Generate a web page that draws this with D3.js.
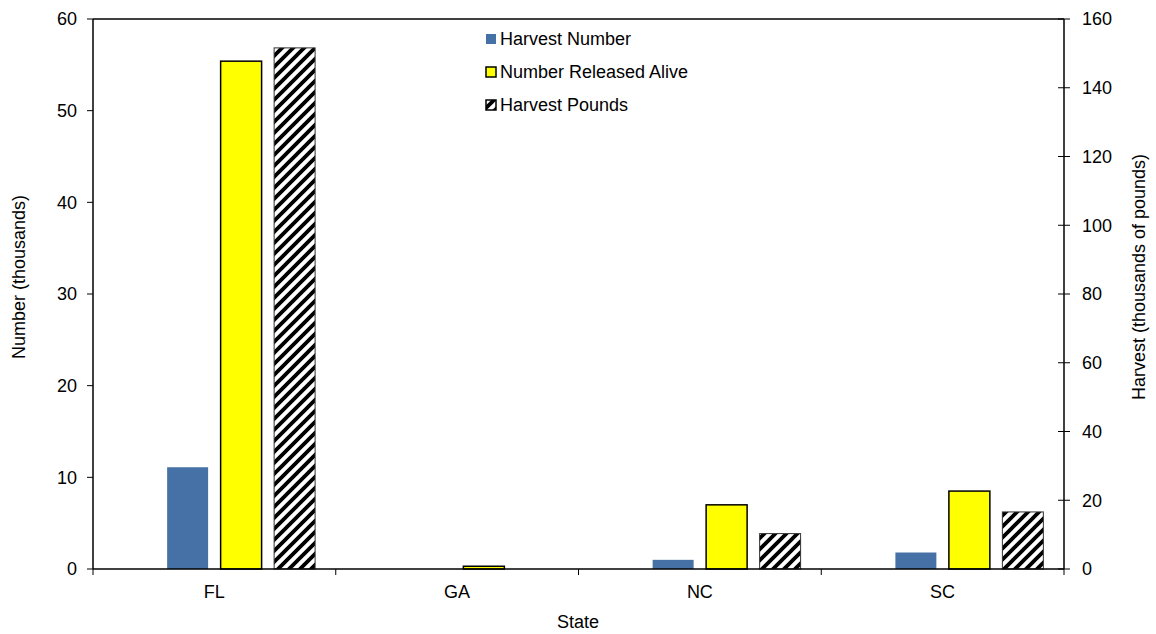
<!DOCTYPE html>
<html>
<head>
<meta charset="utf-8">
<script src="https://cdn.jsdelivr.net/npm/d3@7"></script>
<style>
  html, body { margin: 0; padding: 0; background: #fff; }
  svg { display: block; font-family: "Liberation Sans", Arial, sans-serif; }
</style>
</head>
<body>
<svg id="chart" width="1156" height="634"></svg>
<script>
const states = ["FL", "GA", "NC", "SC"];
const harvestNumber = [11.1, 0, 1.0, 1.8];      // thousands (left axis)
const releasedAlive = [55.4, 0.3, 7.0, 8.5];    // thousands (left axis)
const harvestPounds = [151.6, 0, 10.3, 16.6];   // thousands of pounds (right axis)
const leftTicks = [0, 10, 20, 30, 40, 50, 60];
const rightTicks = [0, 20, 40, 60, 80, 100, 120, 140, 160];
const seriesNames = ["Harvest Number", "Number Released Alive", "Harvest Pounds"];

const svg = d3.select("#chart");
const m = { left: 93, right: 1064, top: 19, bottom: 569 };

// pattern
const defs = svg.append("defs");
const P = 11;
const pat = defs.append("pattern").attr("id", "hatch")
  .attr("patternUnits", "userSpaceOnUse").attr("width", P).attr("height", P);
pat.append("rect").attr("width", P).attr("height", P).attr("fill", "#fff");
pat.append("path").attr("d", `M-3,3 l6,-6 M0,${P} l${P},-${P} M${P-3},${P+3} l6,-6`)
  .attr("stroke", "#000").attr("stroke-width", 3.8);

const x = d3.scaleBand().domain(states).range([m.left, m.right]).padding(0);
const inner = d3.scaleBand().domain(["_", "hn", "ra", "hp"])
  .range([0, x.bandwidth()]).paddingInner(0.234).paddingOuter(0.386);
const yL = d3.scaleLinear().domain([0, 60]).range([m.bottom, m.top]);
const yR = d3.scaleLinear().domain([0, 160]).range([m.bottom, m.top]);

const fs = 18;

// bars
const data = states.map((s, i) => ({ s, hn: harvestNumber[i], ra: releasedAlive[i], hp: harvestPounds[i] }));
const g = svg.append("g");
data.forEach(d => {
  const x0 = x(d.s);
  if (d.hn > 0) g.append("rect")
    .attr("x", x0 + inner("hn")).attr("width", inner.bandwidth())
    .attr("y", yL(d.hn)).attr("height", yL(0) - yL(d.hn))
    .attr("fill", "#4571a6");
  if (d.ra > 0) g.append("rect")
    .attr("x", x0 + inner("ra")).attr("width", inner.bandwidth())
    .attr("y", yL(d.ra)).attr("height", yL(0) - yL(d.ra))
    .attr("fill", "#ffff00").attr("stroke", "#000").attr("stroke-width", 1.5);
  if (d.hp > 0) g.append("rect")
    .attr("x", x0 + inner("hp")).attr("width", inner.bandwidth())
    .attr("y", yR(d.hp)).attr("height", yR(0) - yR(d.hp))
    .attr("fill", "url(#hatch)").attr("stroke", "#333").attr("stroke-width", 1);
});

// frame
const frame = svg.append("g").attr("stroke", "#000").attr("stroke-width", 1.5).attr("fill", "none");
frame.append("line").attr("x1", m.left).attr("x2", m.right).attr("y1", m.top).attr("y2", m.top);
frame.append("line").attr("x1", m.left).attr("x2", m.right).attr("y1", m.bottom).attr("y2", m.bottom);
frame.append("line").attr("x1", m.left).attr("x2", m.left).attr("y1", m.top).attr("y2", m.bottom);
frame.append("line").attr("x1", m.right).attr("x2", m.right).attr("y1", m.top).attr("y2", m.bottom);

// left axis
const la = svg.append("g");
leftTicks.forEach(t => {
  la.append("line").attr("x1", m.left - 6).attr("x2", m.left).attr("y1", yL(t)).attr("y2", yL(t))
    .attr("stroke", "#000").attr("stroke-width", 1);
  la.append("text").attr("x", m.left - 16).attr("y", yL(t)).attr("dy", "0.35em")
    .attr("text-anchor", "end").attr("font-size", fs).attr("fill", "#000").text(t);
});
// right axis
const ra = svg.append("g");
rightTicks.forEach(t => {
  ra.append("line").attr("x1", m.right - 6).attr("x2", m.right + 6).attr("y1", yR(t)).attr("y2", yR(t))
    .attr("stroke", "#000").attr("stroke-width", 1);
  ra.append("text").attr("x", m.right + 18).attr("y", yR(t)).attr("dy", "0.35em")
    .attr("text-anchor", "start").attr("font-size", fs).attr("fill", "#000").text(t);
});
// bottom axis
const ba = svg.append("g");
const bounds = states.map(s => x(s)).concat([m.right]);
bounds.forEach(b => {
  ba.append("line").attr("x1", b).attr("x2", b).attr("y1", m.bottom).attr("y2", m.bottom + 6)
    .attr("stroke", "#000").attr("stroke-width", 1);
});
states.forEach(s => {
  ba.append("text").attr("x", x(s) + x.bandwidth() / 2).attr("y", 598)
    .attr("text-anchor", "middle").attr("font-size", fs).attr("fill", "#000").text(s);
});

// axis titles
svg.append("text").attr("x", 578).attr("y", 628).attr("text-anchor", "middle")
  .attr("font-size", fs).text("State");
svg.append("text").attr("transform", "translate(25,277) rotate(-90)").attr("text-anchor", "middle")
  .attr("font-size", fs).text("Number (thousands)");
svg.append("text").attr("transform", "translate(1145,277) rotate(-90)").attr("text-anchor", "middle")
  .attr("font-size", fs).text("Harvest (thousands of pounds)");

// legend
const leg = svg.append("g");
const legFill = ["#4571a6", "#ffff00", "url(#hatch)"];
const legStroke = ["none", "#000", "#000"];
seriesNames.forEach((n, i) => {
  const cy = 39 + i * 33;
  leg.append("rect").attr("x", 486).attr("y", cy - 5).attr("width", 10).attr("height", 10)
    .attr("fill", legFill[i]).attr("stroke", legStroke[i]).attr("stroke-width", i === 0 ? 0 : 1.5);
  leg.append("text").attr("x", 500).attr("y", cy).attr("dy", "0.35em")
    .attr("font-size", fs).attr("fill", "#000").text(n);
});
</script>
</body>
</html>
